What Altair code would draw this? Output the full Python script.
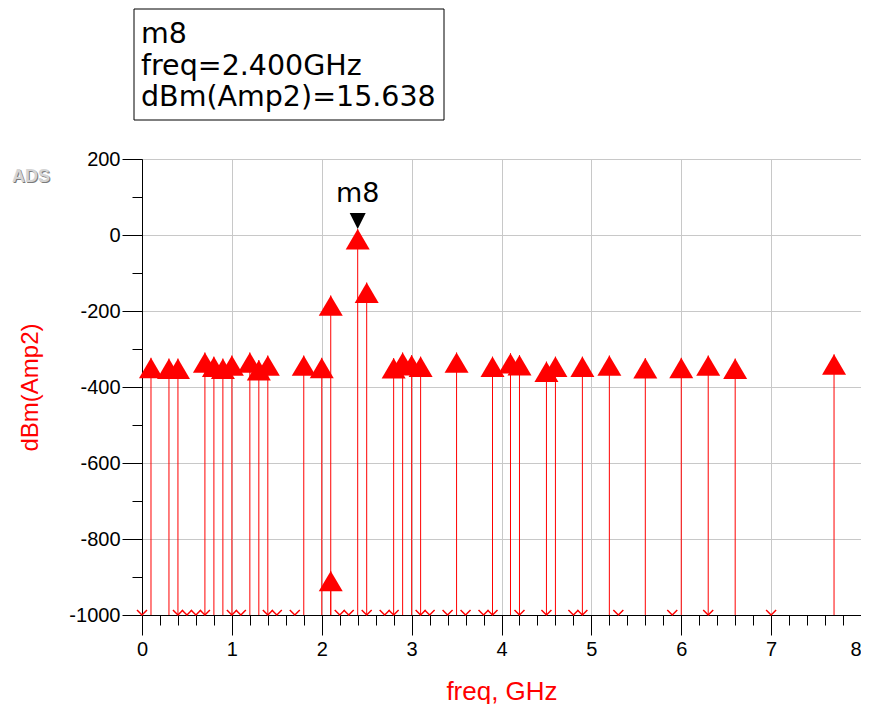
import altair as alt
import pandas as pd

# ---- data ----
tri_freq = [0.1, 0.3, 0.4, 0.7, 0.8, 0.9, 1.0, 1.2, 1.3, 1.4, 1.8, 2.0, 2.1, 2.1, 2.4, 2.5,
            2.8, 2.9, 3.0, 3.1, 3.5, 3.9, 4.1, 4.2, 4.5, 4.6, 4.9, 5.2, 5.6, 6.0, 6.3, 6.6, 7.7]
tri_dbm = [-323, -325, -325, -309, -320, -325, -317, -309, -329, -317, -317, -323, -159, -884, 15.638, -125,
           -324, -309, -316, -320, -309, -320, -311, -316, -333, -320, -320, -317, -324, -323, -317, -325, -314]

floor_freq = [0.0, 0.4, 0.5, 0.6, 0.7, 1.0, 1.1, 1.4, 1.5, 1.7, 2.2, 2.3, 2.5, 2.7, 2.8, 3.1, 3.2,
              3.4, 3.6, 3.8, 3.9, 4.2, 4.5, 4.8, 4.9, 5.3, 5.9, 6.3, 7.0]
floor_dbm = -1000

marker_name = ["m8"]
marker_freq = [2.4]
marker_dbm = [15.638]

x_ticks = [round(i * 0.2, 1) for i in range(41)]
y_ticks = list(range(-1000, 201, 100))

RED = "#ff0000"

tri = pd.DataFrame({"freq": tri_freq, "dbm": tri_dbm})
flo = pd.DataFrame({"freq": floor_freq, "dbm": [floor_dbm] * len(floor_freq)})
mk = pd.DataFrame({"name": marker_name, "freq": marker_freq, "dbm": marker_dbm})
box_lines = pd.DataFrame({
    "line": [marker_name[0],
             "freq=%.3fGHz" % marker_freq[0],
             "dBm(Amp2)=%.3f" % marker_dbm[0]],
    "row": [0, 1, 2],
})

xs = alt.Scale(domain=[0, 8], nice=False, zero=False)
ys = alt.Scale(domain=[-1000, 200], nice=False, zero=False)

IS_INT = "abs(datum.value - round(datum.value)) < 1e-6"
x_axis = alt.Axis(
    values=x_ticks, tickCount=200,
    labelExpr=IS_INT + " ? format(datum.value, 'd') : ''",
    tickSize={"condition": {"test": IS_INT, "value": 20}, "value": 10},
    gridOpacity={"condition": {"test": IS_INT, "value": 1}, "value": 0},
    labelAlign={"condition": {"test": "datum.value >= 7.99", "value": "right"}, "value": "center"},
    labelFlush=False, labelOverlap=False, labelPadding=4,
    title="freq, GHz", titleColor=RED, titleFontSize=26, titleFontWeight="normal",
    titleFont="Liberation Sans", titleY=84, titleBaseline="alphabetic",
)
y_axis = alt.Axis(
    values=y_ticks, tickCount=200,
    labelExpr="datum.value % 200 === 0 ? '' + datum.value : ''",
    tickSize={"condition": {"test": "datum.value % 200 === 0", "value": 20}, "value": 10},
    gridOpacity={"condition": {"test": "datum.value % 200 === 0", "value": 1}, "value": 0},
    labelOverlap=False, labelFlush=False, labelPadding=2,
    title="dBm(Amp2)", titleColor=RED, titleFontSize=24, titleFontWeight="normal",
    titleFont="Liberation Sans", titleX=-112, titleY=228, titleAngle=-90, titleBaseline="middle",
    titleAlign="center",
)

base = alt.Chart(tri)

stems = base.transform_calculate(floor=str(floor_dbm)).mark_rule(color=RED, strokeWidth=1).encode(
    x=alt.X("freq:Q", scale=xs, axis=x_axis),
    y=alt.Y("floor:Q", scale=ys, axis=y_axis),
    y2="dbm:Q",
)

tris = base.mark_point(
    shape="M0,0L1,1.7L-1,1.7Z", filled=True, size=576, color=RED, opacity=1, strokeWidth=0
).encode(x=alt.X("freq:Q", scale=xs), y=alt.Y("dbm:Q", scale=ys))

vs = alt.Chart(flo).mark_point(
    shape="M-1,-1L0,0L1,-1", filled=False, size=100, color=RED, opacity=1, strokeWidth=1.5
).encode(x=alt.X("freq:Q", scale=xs), y=alt.Y("dbm:Q", scale=ys))

mk_tri = alt.Chart(mk).mark_point(
    shape="M-1,-2L1,-2L0,0Z", filled=True, size=256, color="black", opacity=1, strokeWidth=0
).encode(x=alt.X("freq:Q", scale=xs), y=alt.Y("dbm:Q", scale=ys))

mk_txt = alt.Chart(mk).mark_text(
    font="DejaVu Sans", fontSize=27, color="black", dy=-27, baseline="alphabetic", align="center"
).encode(x=alt.X("freq:Q", scale=xs), y=alt.Y("dbm:Q", scale=ys), text="name:N")

box = alt.Chart(mk).mark_rect(fill="white", stroke="black", strokeWidth=1).encode(
    x=alt.value(-8), x2=alt.value(302), y=alt.value(-150), y2=alt.value(-39)
)

box_txt = alt.Chart(box_lines).transform_calculate(
    ypix="-116 + datum.row * 31.5"
).mark_text(
    font="DejaVu Sans", fontSize=28.5, color="black", align="left", baseline="alphabetic"
).encode(
    x=alt.value(-1),
    y=alt.Y("ypix:Q", scale=None),
    text="line:N",
)

ads_shadow = alt.Chart(mk).mark_text(
    text="ADS", font="Liberation Sans", fontSize=18, fontWeight="bold", color="#7a7a7a",
    align="center", baseline="alphabetic"
).encode(x=alt.value(-110), y=alt.value(24))
ads = alt.Chart(mk).mark_text(
    text="ADS", font="Liberation Sans", fontSize=18, fontWeight="bold", color="#d4d4d4",
    align="center", baseline="alphabetic"
).encode(x=alt.value(-111), y=alt.value(23))

chart = alt.layer(stems, vs, tris, mk_tri, mk_txt, box, box_txt, ads_shadow, ads).properties(
    width=719, height=456,
    autosize=alt.AutoSizeParams(type="none"),
    padding={"left": 134, "top": 151, "right": 0, "bottom": 89},
).configure_view(
    stroke="black", strokeWidth=1
).configure_axis(
    domainColor="black", tickColor="black", tickWidth=1, domainWidth=1,
    gridColor="#c8c8c8", gridWidth=1,
    labelFont="Liberation Sans", labelFontSize=20, labelColor="black",
)

chart.save("out.html", embed_options={"renderer": "svg", "actions": False})
